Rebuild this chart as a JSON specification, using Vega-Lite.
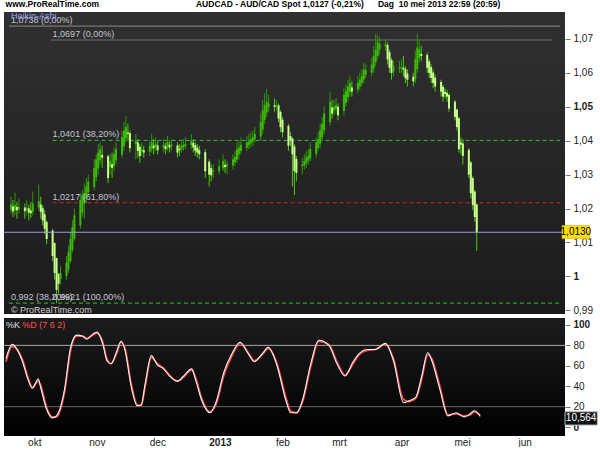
{
  "$schema": "https://vega.github.io/schema/vega-lite/v6.json",
  "background": "white",
  "padding": {"left": 2, "top": 0, "right": 0, "bottom": 0},
  "title": {"text": "www.ProRealTime.com\u00a0\u00a0\u00a0\u00a0\u00a0\u00a0\u00a0\u00a0\u00a0\u00a0\u00a0\u00a0\u00a0\u00a0\u00a0\u00a0\u00a0\u00a0\u00a0\u00a0\u00a0\u00a0\u00a0\u00a0\u00a0\u00a0\u00a0\u00a0\u00a0\u00a0\u00a0\u00a0\u00a0\u00a0\u00a0\u00a0\u00a0\u00a0\u00a0\u00a0\u00a0AUDCAD - AUD/CAD Spot\u00a01,0127 (-0,21%)\u00a0\u00a0\u00a0\u00a0\u00a0\u00a0Dag\u00a0\u00a010 mei 2013 22:59 (20:59)", "anchor": "start", "fontSize": 8.5, "fontWeight": "bold", "font": "Liberation Sans", "color": "#000000", "offset": 3, "dx": 3},
  "config": {"font": "Liberation Sans", "view": {"stroke": null}, "axis": {"grid": false, "labelOverlap": false}},
  "spacing": 2,
  "datasets": {
    "candles": [
      {"date":"2012-09-17","o":1.0197,"h":1.0235,"l":1.0185,"c":1.0212},
      {"date":"2012-09-18","o":1.0206,"h":1.0225,"l":1.0175,"c":1.0191},
      {"date":"2012-09-19","o":1.0195,"h":1.0247,"l":1.0180,"c":1.0210},
      {"date":"2012-09-20","o":1.0205,"h":1.0220,"l":1.0170,"c":1.0195},
      {"date":"2012-09-21","o":1.0198,"h":1.0230,"l":1.0185,"c":1.0205},
      {"date":"2012-09-24","o":1.0203,"h":1.0215,"l":1.0170,"c":1.0192},
      {"date":"2012-09-25","o":1.0195,"h":1.0225,"l":1.0180,"c":1.0202},
      {"date":"2012-09-26","o":1.0200,"h":1.0212,"l":1.0165,"c":1.0188},
      {"date":"2012-09-27","o":1.0194,"h":1.0220,"l":1.0172,"c":1.0186},
      {"date":"2012-09-28","o":1.0190,"h":1.0250,"l":1.0180,"c":1.0215},
      {"date":"2012-10-01","o":1.0203,"h":1.0271,"l":1.0195,"c":1.0222},
      {"date":"2012-10-02","o":1.0212,"h":1.0235,"l":1.0170,"c":1.0190},
      {"date":"2012-10-03","o":1.0201,"h":1.0210,"l":1.0150,"c":1.0165},
      {"date":"2012-10-04","o":1.0183,"h":1.0195,"l":1.0125,"c":1.0140},
      {"date":"2012-10-05","o":1.0160,"h":1.0165,"l":1.0095,"c":1.0110},
      {"date":"2012-10-08","o":1.0135,"h":1.0140,"l":1.0045,"c":1.0060},
      {"date":"2012-10-09","o":1.0098,"h":1.0100,"l":0.9990,"c":1.0010},
      {"date":"2012-10-10","o":1.0054,"h":1.0055,"l":0.9921,"c":0.9960},
      {"date":"2012-10-11","o":1.0007,"h":1.0010,"l":0.9950,"c":0.9978},
      {"date":"2012-10-12","o":0.9992,"h":1.0030,"l":0.9975,"c":1.0010},
      {"date":"2012-10-15","o":1.0001,"h":1.0060,"l":0.9990,"c":1.0040},
      {"date":"2012-10-16","o":1.0020,"h":1.0090,"l":1.0010,"c":1.0070},
      {"date":"2012-10-17","o":1.0045,"h":1.0130,"l":1.0040,"c":1.0110},
      {"date":"2012-10-18","o":1.0078,"h":1.0165,"l":1.0070,"c":1.0145},
      {"date":"2012-10-19","o":1.0111,"h":1.0200,"l":1.0105,"c":1.0180},
      {"date":"2012-10-22","o":1.0150,"h":1.0245,"l":1.0140,"c":1.0225},
      {"date":"2012-10-23","o":1.0188,"h":1.0255,"l":1.0175,"c":1.0240},
      {"date":"2012-10-24","o":1.0214,"h":1.0275,"l":1.0170,"c":1.0245},
      {"date":"2012-10-25","o":1.0230,"h":1.0290,"l":1.0215,"c":1.0265},
      {"date":"2012-10-26","o":1.0248,"h":1.0300,"l":1.0235,"c":1.0280},
      {"date":"2012-10-29","o":1.0264,"h":1.0345,"l":1.0255,"c":1.0320},
      {"date":"2012-10-30","o":1.0292,"h":1.0360,"l":1.0280,"c":1.0345},
      {"date":"2012-10-31","o":1.0318,"h":1.0390,"l":1.0300,"c":1.0365},
      {"date":"2012-11-01","o":1.0342,"h":1.0395,"l":1.0330,"c":1.0375},
      {"date":"2012-11-02","o":1.0358,"h":1.0385,"l":1.0320,"c":1.0350},
      {"date":"2012-11-05","o":1.0354,"h":1.0360,"l":1.0275,"c":1.0290},
      {"date":"2012-11-06","o":1.0322,"h":1.0360,"l":1.0300,"c":1.0340},
      {"date":"2012-11-07","o":1.0331,"h":1.0365,"l":1.0290,"c":1.0320},
      {"date":"2012-11-08","o":1.0325,"h":1.0380,"l":1.0310,"c":1.0360},
      {"date":"2012-11-09","o":1.0342,"h":1.0395,"l":1.0330,"c":1.0375},
      {"date":"2012-11-12","o":1.0358,"h":1.0430,"l":1.0350,"c":1.0410},
      {"date":"2012-11-13","o":1.0384,"h":1.0455,"l":1.0370,"c":1.0430},
      {"date":"2012-11-14","o":1.0407,"h":1.0472,"l":1.0395,"c":1.0440},
      {"date":"2012-11-15","o":1.0424,"h":1.0450,"l":1.0400,"c":1.0420},
      {"date":"2012-11-16","o":1.0422,"h":1.0430,"l":1.0365,"c":1.0378},
      {"date":"2012-11-19","o":1.0390,"h":1.0420,"l":1.0345,"c":1.0400},
      {"date":"2012-11-20","o":1.0395,"h":1.0405,"l":1.0350,"c":1.0370},
      {"date":"2012-11-21","o":1.0382,"h":1.0390,"l":1.0335,"c":1.0355},
      {"date":"2012-11-22","o":1.0368,"h":1.0395,"l":1.0355,"c":1.0375},
      {"date":"2012-11-23","o":1.0372,"h":1.0385,"l":1.0350,"c":1.0365},
      {"date":"2012-11-26","o":1.0368,"h":1.0400,"l":1.0355,"c":1.0385},
      {"date":"2012-11-27","o":1.0376,"h":1.0420,"l":1.0365,"c":1.0395},
      {"date":"2012-11-28","o":1.0386,"h":1.0405,"l":1.0360,"c":1.0378},
      {"date":"2012-11-29","o":1.0382,"h":1.0410,"l":1.0370,"c":1.0390},
      {"date":"2012-11-30","o":1.0386,"h":1.0400,"l":1.0360,"c":1.0372},
      {"date":"2012-12-03","o":1.0379,"h":1.0405,"l":1.0365,"c":1.0388},
      {"date":"2012-12-04","o":1.0384,"h":1.0395,"l":1.0360,"c":1.0375},
      {"date":"2012-12-05","o":1.0380,"h":1.0415,"l":1.0370,"c":1.0395},
      {"date":"2012-12-06","o":1.0388,"h":1.0400,"l":1.0365,"c":1.0380},
      {"date":"2012-12-07","o":1.0384,"h":1.0405,"l":1.0370,"c":1.0388},
      {"date":"2012-12-10","o":1.0386,"h":1.0395,"l":1.0350,"c":1.0365},
      {"date":"2012-12-11","o":1.0376,"h":1.0390,"l":1.0355,"c":1.0372},
      {"date":"2012-12-12","o":1.0374,"h":1.0400,"l":1.0365,"c":1.0385},
      {"date":"2012-12-13","o":1.0380,"h":1.0405,"l":1.0370,"c":1.0388},
      {"date":"2012-12-14","o":1.0384,"h":1.0410,"l":1.0375,"c":1.0390},
      {"date":"2012-12-17","o":1.0387,"h":1.0420,"l":1.0375,"c":1.0400},
      {"date":"2012-12-18","o":1.0394,"h":1.0405,"l":1.0365,"c":1.0380},
      {"date":"2012-12-19","o":1.0387,"h":1.0395,"l":1.0355,"c":1.0370},
      {"date":"2012-12-20","o":1.0379,"h":1.0390,"l":1.0350,"c":1.0365},
      {"date":"2012-12-21","o":1.0372,"h":1.0385,"l":1.0345,"c":1.0360},
      {"date":"2012-12-24","o":1.0366,"h":1.0375,"l":1.0290,"c":1.0310},
      {"date":"2012-12-26","o":1.0338,"h":1.0345,"l":1.0265,"c":1.0300},
      {"date":"2012-12-27","o":1.0319,"h":1.0330,"l":1.0280,"c":1.0298},
      {"date":"2012-12-28","o":1.0308,"h":1.0330,"l":1.0290,"c":1.0312},
      {"date":"2012-12-31","o":1.0310,"h":1.0345,"l":1.0300,"c":1.0325},
      {"date":"2013-01-02","o":1.0318,"h":1.0360,"l":1.0310,"c":1.0340},
      {"date":"2013-01-03","o":1.0329,"h":1.0345,"l":1.0305,"c":1.0322},
      {"date":"2013-01-04","o":1.0324,"h":1.0340,"l":1.0300,"c":1.0330},
      {"date":"2013-01-07","o":1.0327,"h":1.0360,"l":1.0315,"c":1.0345},
      {"date":"2013-01-08","o":1.0336,"h":1.0370,"l":1.0325,"c":1.0352},
      {"date":"2013-01-09","o":1.0344,"h":1.0395,"l":1.0335,"c":1.0375},
      {"date":"2013-01-10","o":1.0360,"h":1.0400,"l":1.0345,"c":1.0380},
      {"date":"2013-01-11","o":1.0370,"h":1.0410,"l":1.0360,"c":1.0388},
      {"date":"2013-01-14","o":1.0379,"h":1.0415,"l":1.0370,"c":1.0395},
      {"date":"2013-01-15","o":1.0387,"h":1.0420,"l":1.0375,"c":1.0398},
      {"date":"2013-01-16","o":1.0392,"h":1.0425,"l":1.0380,"c":1.0405},
      {"date":"2013-01-17","o":1.0398,"h":1.0430,"l":1.0385,"c":1.0410},
      {"date":"2013-01-18","o":1.0404,"h":1.0440,"l":1.0395,"c":1.0420},
      {"date":"2013-01-21","o":1.0412,"h":1.0480,"l":1.0400,"c":1.0455},
      {"date":"2013-01-22","o":1.0433,"h":1.0520,"l":1.0420,"c":1.0490},
      {"date":"2013-01-23","o":1.0462,"h":1.0540,"l":1.0450,"c":1.0505},
      {"date":"2013-01-24","o":1.0483,"h":1.0552,"l":1.0470,"c":1.0515},
      {"date":"2013-01-25","o":1.0499,"h":1.0535,"l":1.0485,"c":1.0510},
      {"date":"2013-01-28","o":1.0505,"h":1.0525,"l":1.0485,"c":1.0500},
      {"date":"2013-01-29","o":1.0502,"h":1.0520,"l":1.0490,"c":1.0505},
      {"date":"2013-01-30","o":1.0504,"h":1.0510,"l":1.0455,"c":1.0465},
      {"date":"2013-01-31","o":1.0485,"h":1.0490,"l":1.0425,"c":1.0440},
      {"date":"2013-02-01","o":1.0462,"h":1.0470,"l":1.0410,"c":1.0425},
      {"date":"2013-02-04","o":1.0444,"h":1.0450,"l":1.0370,"c":1.0385},
      {"date":"2013-02-05","o":1.0414,"h":1.0425,"l":1.0385,"c":1.0400},
      {"date":"2013-02-06","o":1.0407,"h":1.0410,"l":1.0265,"c":1.0360},
      {"date":"2013-02-07","o":1.0383,"h":1.0390,"l":1.0240,"c":1.0310},
      {"date":"2013-02-08","o":1.0346,"h":1.0355,"l":1.0280,"c":1.0305},
      {"date":"2013-02-11","o":1.0325,"h":1.0350,"l":1.0300,"c":1.0330},
      {"date":"2013-02-12","o":1.0327,"h":1.0360,"l":1.0315,"c":1.0340},
      {"date":"2013-02-13","o":1.0333,"h":1.0370,"l":1.0320,"c":1.0350},
      {"date":"2013-02-14","o":1.0341,"h":1.0375,"l":1.0330,"c":1.0355},
      {"date":"2013-02-15","o":1.0348,"h":1.0395,"l":1.0340,"c":1.0375},
      {"date":"2013-02-18","o":1.0361,"h":1.0410,"l":1.0350,"c":1.0395},
      {"date":"2013-02-19","o":1.0378,"h":1.0425,"l":1.0370,"c":1.0405},
      {"date":"2013-02-20","o":1.0391,"h":1.0450,"l":1.0380,"c":1.0430},
      {"date":"2013-02-21","o":1.0410,"h":1.0470,"l":1.0400,"c":1.0450},
      {"date":"2013-02-22","o":1.0430,"h":1.0500,"l":1.0420,"c":1.0480},
      {"date":"2013-02-25","o":1.0455,"h":1.0545,"l":1.0445,"c":1.0515},
      {"date":"2013-02-26","o":1.0498,"h":1.0520,"l":1.0465,"c":1.0480},
      {"date":"2013-02-27","o":1.0489,"h":1.0520,"l":1.0475,"c":1.0500},
      {"date":"2013-02-28","o":1.0494,"h":1.0525,"l":1.0480,"c":1.0505},
      {"date":"2013-03-01","o":1.0500,"h":1.0510,"l":1.0460,"c":1.0475},
      {"date":"2013-03-04","o":1.0488,"h":1.0555,"l":1.0475,"c":1.0535},
      {"date":"2013-03-05","o":1.0511,"h":1.0565,"l":1.0500,"c":1.0546},
      {"date":"2013-03-06","o":1.0528,"h":1.0580,"l":1.0515,"c":1.0560},
      {"date":"2013-03-07","o":1.0544,"h":1.0590,"l":1.0530,"c":1.0570},
      {"date":"2013-03-08","o":1.0557,"h":1.0575,"l":1.0530,"c":1.0545},
      {"date":"2013-03-11","o":1.0551,"h":1.0590,"l":1.0540,"c":1.0570},
      {"date":"2013-03-12","o":1.0560,"h":1.0600,"l":1.0550,"c":1.0580},
      {"date":"2013-03-13","o":1.0570,"h":1.0610,"l":1.0560,"c":1.0590},
      {"date":"2013-03-14","o":1.0580,"h":1.0630,"l":1.0570,"c":1.0610},
      {"date":"2013-03-15","o":1.0595,"h":1.0625,"l":1.0585,"c":1.0608},
      {"date":"2013-03-18","o":1.0601,"h":1.0645,"l":1.0590,"c":1.0625},
      {"date":"2013-03-19","o":1.0613,"h":1.0680,"l":1.0600,"c":1.0650},
      {"date":"2013-03-20","o":1.0632,"h":1.0715,"l":1.0620,"c":1.0668},
      {"date":"2013-03-21","o":1.0650,"h":1.0712,"l":1.0640,"c":1.0690},
      {"date":"2013-03-22","o":1.0670,"h":1.0705,"l":1.0655,"c":1.0685},
      {"date":"2013-03-25","o":1.0678,"h":1.0700,"l":1.0665,"c":1.0685},
      {"date":"2013-03-26","o":1.0682,"h":1.0690,"l":1.0625,"c":1.0640},
      {"date":"2013-03-27","o":1.0661,"h":1.0668,"l":1.0600,"c":1.0615},
      {"date":"2013-03-28","o":1.0638,"h":1.0645,"l":1.0580,"c":1.0600},
      {"date":"2013-03-29","o":1.0605,"h":1.0635,"l":1.0590,"c":1.0620},
      {"date":"2013-04-01","o":1.0612,"h":1.0635,"l":1.0600,"c":1.0615},
      {"date":"2013-04-02","o":1.0613,"h":1.0640,"l":1.0600,"c":1.0618},
      {"date":"2013-04-03","o":1.0615,"h":1.0650,"l":1.0590,"c":1.0610},
      {"date":"2013-04-04","o":1.0612,"h":1.0620,"l":1.0570,"c":1.0585},
      {"date":"2013-04-05","o":1.0598,"h":1.0610,"l":1.0560,"c":1.0580},
      {"date":"2013-04-08","o":1.0589,"h":1.0600,"l":1.0560,"c":1.0575},
      {"date":"2013-04-09","o":1.0582,"h":1.0665,"l":1.0570,"c":1.0640},
      {"date":"2013-04-10","o":1.0611,"h":1.0715,"l":1.0600,"c":1.0675},
      {"date":"2013-04-11","o":1.0643,"h":1.0700,"l":1.0630,"c":1.0670},
      {"date":"2013-04-12","o":1.0656,"h":1.0680,"l":1.0635,"c":1.0650},
      {"date":"2013-04-15","o":1.0653,"h":1.0660,"l":1.0600,"c":1.0615},
      {"date":"2013-04-16","o":1.0634,"h":1.0640,"l":1.0585,"c":1.0600},
      {"date":"2013-04-17","o":1.0617,"h":1.0625,"l":1.0570,"c":1.0585},
      {"date":"2013-04-18","o":1.0601,"h":1.0610,"l":1.0555,"c":1.0570},
      {"date":"2013-04-19","o":1.0586,"h":1.0595,"l":1.0545,"c":1.0560},
      {"date":"2013-04-22","o":1.0573,"h":1.0580,"l":1.0530,"c":1.0545},
      {"date":"2013-04-23","o":1.0559,"h":1.0565,"l":1.0515,"c":1.0530},
      {"date":"2013-04-24","o":1.0544,"h":1.0555,"l":1.0525,"c":1.0538},
      {"date":"2013-04-25","o":1.0541,"h":1.0550,"l":1.0515,"c":1.0530},
      {"date":"2013-04-26","o":1.0535,"h":1.0540,"l":1.0485,"c":1.0495},
      {"date":"2013-04-29","o":1.0515,"h":1.0520,"l":1.0460,"c":1.0470},
      {"date":"2013-04-30","o":1.0492,"h":1.0495,"l":1.0430,"c":1.0440},
      {"date":"2013-05-01","o":1.0466,"h":1.0470,"l":1.0365,"c":1.0375},
      {"date":"2013-05-02","o":1.0395,"h":1.0410,"l":1.0360,"c":1.0388},
      {"date":"2013-05-03","o":1.0392,"h":1.0405,"l":1.0330,"c":1.0355},
      {"date":"2013-05-06","o":1.0373,"h":1.0378,"l":1.0290,"c":1.0300},
      {"date":"2013-05-07","o":1.0336,"h":1.0340,"l":1.0230,"c":1.0245},
      {"date":"2013-05-08","o":1.0290,"h":1.0295,"l":1.0195,"c":1.0210},
      {"date":"2013-05-09","o":1.0250,"h":1.0255,"l":1.0160,"c":1.0175},
      {"date":"2013-05-10","o":1.0212,"h":1.0215,"l":1.0075,"c":1.0130}
    ],
    "stoch": [
      {"date":"2012-09-17","k":67,"d":64},{"date":"2012-09-20","k":81,"d":79},{"date":"2012-09-25","k":65,"d":67},
      {"date":"2012-09-28","k":46,"d":48},{"date":"2012-09-30","k":38,"d":39},{"date":"2012-10-03","k":47,"d":45},
      {"date":"2012-10-04","k":40,"d":42},{"date":"2012-10-07","k":18,"d":20},{"date":"2012-10-10","k":9,"d":10},
      {"date":"2012-10-12","k":11,"d":10},{"date":"2012-10-16","k":37,"d":34},{"date":"2012-10-19","k":78,"d":75},
      {"date":"2012-10-22","k":90,"d":89},{"date":"2012-10-25","k":89,"d":89},{"date":"2012-10-27","k":86,"d":87},
      {"date":"2012-10-30","k":91,"d":90},{"date":"2012-11-01","k":93,"d":92},{"date":"2012-11-04","k":81,"d":83},
      {"date":"2012-11-06","k":65,"d":67},{"date":"2012-11-08","k":62,"d":62},{"date":"2012-11-11","k":75,"d":73},
      {"date":"2012-11-13","k":84,"d":83},{"date":"2012-11-15","k":75,"d":77},{"date":"2012-11-18","k":40,"d":43},
      {"date":"2012-11-21","k":21,"d":22},{"date":"2012-11-23","k":22,"d":21},{"date":"2012-11-25","k":43,"d":40},
      {"date":"2012-11-28","k":70,"d":68},{"date":"2012-12-01","k":61,"d":62},{"date":"2012-12-04","k":57,"d":58},
      {"date":"2012-12-07","k":50,"d":51},{"date":"2012-12-11","k":45,"d":45},{"date":"2012-12-14","k":50,"d":49},
      {"date":"2012-12-18","k":57,"d":56},{"date":"2012-12-20","k":46,"d":48},{"date":"2012-12-23","k":26,"d":28},
      {"date":"2012-12-27","k":14,"d":15},{"date":"2012-12-30","k":24,"d":22},{"date":"2013-01-03","k":54,"d":51},
      {"date":"2013-01-07","k":72,"d":70},{"date":"2013-01-11","k":83,"d":82},{"date":"2013-01-15","k":72,"d":73},
      {"date":"2013-01-18","k":64,"d":65},{"date":"2013-01-22","k":72,"d":71},{"date":"2013-01-25","k":78,"d":77},
      {"date":"2013-01-29","k":62,"d":64},{"date":"2013-02-03","k":24,"d":27},{"date":"2013-02-05","k":14,"d":16},
      {"date":"2013-02-08","k":14,"d":14},{"date":"2013-02-11","k":27,"d":25},{"date":"2013-02-15","k":62,"d":59},
      {"date":"2013-02-19","k":85,"d":84},{"date":"2013-02-24","k":80,"d":81},{"date":"2013-02-28","k":62,"d":64},
      {"date":"2013-03-04","k":50,"d":51},{"date":"2013-03-08","k":64,"d":62},{"date":"2013-03-11","k":72,"d":71},
      {"date":"2013-03-15","k":76,"d":75},{"date":"2013-03-19","k":76,"d":76},{"date":"2013-03-24","k":82,"d":81},
      {"date":"2013-03-28","k":65,"d":67},{"date":"2013-04-02","k":24,"d":27},{"date":"2013-04-05","k":26,"d":25},
      {"date":"2013-04-08","k":29,"d":28},{"date":"2013-04-11","k":50,"d":47},{"date":"2013-04-14","k":73,"d":71},
      {"date":"2013-04-16","k":65,"d":67},{"date":"2013-04-20","k":37,"d":40},{"date":"2013-04-24","k":11,"d":12},
      {"date":"2013-04-28","k":14,"d":13},{"date":"2013-05-02","k":10,"d":11},{"date":"2013-05-05","k":13,"d":12},
      {"date":"2013-05-07","k":16,"d":15},{"date":"2013-05-10","k":10.564,"d":12}
    ]
  },
  "vconcat": [
    {
      "width": 561,
      "height": 302,
      "view": {"stroke": null, "fill": {"gradient": "linear", "x1": 0, "y1": 0, "x2": 0, "y2": 1, "stops": [{"offset": 0, "color": "#303030"}, {"offset": 1, "color": "#1b1b1b"}]}},
      "layer": [
        {
          "data": {"values": [{"date": "2012-09-16", "date2": "2013-06-21", "level": 1.0738}]},
          "mark": {"type": "rule", "color": "#8a8a8a", "strokeWidth": 1},
          "encoding": {
            "x": {"field": "date", "type": "temporal", "scale": {"type": "utc", "domain": [{"year": 2012, "month": 9, "date": 16, "utc": true}, {"year": 2013, "month": 6, "date": 21, "utc": true}], "nice": false}, "axis": null},
            "x2": {"field": "date2"},
            "y": {"field": "level", "type": "quantitative", "title": null, "scale": {"domain": [0.98889, 1.07796], "nice": false, "zero": false}, "axis": {"orient": "right", "title": null, "values": [0.99, 1, 1.01, 1.02, 1.03, 1.04, 1.05, 1.06, 1.07], "tickCount": 30, "labelOverlap": false, "labelExpr": "datum.value == 1 ? '1' : replace(format(datum.value, '.2f'), '.', ',')", "labelFontWeight": {"condition": {"test": "datum.value == 1 || datum.value == 1.05", "value": "bold"}, "value": "normal"}, "labelFontSize": 10, "labelColor": "#222222", "labelFont": "Liberation Sans", "tickColor": "#777777", "tickSize": 5, "labelPadding": 3, "domain": false, "grid": false}}
          }
        },
        {
          "data": {"values": [{"date": "2012-10-07", "date2": "2013-06-17", "level": 1.0697}]},
          "mark": {"type": "rule", "color": "#6e6e6e", "strokeWidth": 1},
          "encoding": {"x": {"field": "date", "type": "temporal"}, "x2": {"field": "date2"}, "y": {"field": "level", "type": "quantitative", "title": null}}
        },
        {
          "data": {"values": [{"date": "2012-10-08", "date2": "2013-06-21", "level": 1.0401}, {"date": "2012-09-16", "date2": "2013-06-21", "level": 0.9921}]},
          "mark": {"type": "rule", "color": "#2fc42f", "strokeWidth": 1, "strokeDash": [4, 3]},
          "encoding": {"x": {"field": "date", "type": "temporal"}, "x2": {"field": "date2"}, "y": {"field": "level", "type": "quantitative", "title": null}}
        },
        {
          "data": {"values": [{"date": "2012-10-08", "date2": "2013-06-21", "level": 1.0217}]},
          "mark": {"type": "rule", "color": "#c82828", "strokeWidth": 1, "strokeDash": [4, 3]},
          "encoding": {"x": {"field": "date", "type": "temporal"}, "x2": {"field": "date2"}, "y": {"field": "level", "type": "quantitative", "title": null}}
        },
        {
          "data": {"name": "candles"},
          "mark": {"type": "rule", "strokeWidth": 1},
          "encoding": {
            "x": {"field": "date", "type": "temporal"},
            "y": {"field": "l", "type": "quantitative", "title": null},
            "y2": {"field": "h"},
            "color": {"condition": {"test": "datum.c < datum.o", "value": "#4fc814"}, "value": "#2b9a00"}
          }
        },
        {
          "data": {"name": "candles"},
          "mark": {"type": "bar", "size": 2},
          "encoding": {
            "x": {"field": "date", "type": "temporal"},
            "y": {"field": "o", "type": "quantitative", "title": null},
            "y2": {"field": "c"},
            "color": {"condition": {"test": "datum.c < datum.o", "value": "#c8ff8c"}, "value": "#3cb80a"}
          }
        },
        {
          "data": {"values": [{"level": 1.013}]},
          "mark": {"type": "rule", "color": "#9c9cdc", "strokeWidth": 1},
          "encoding": {"y": {"field": "level", "type": "quantitative", "title": null}}
        },
        {
          "data": {"values": [
            {"date": "2012-09-17", "level": 1.0738, "label": "1,0738 (0,00%)"},
            {"date": "2012-10-08", "level": 1.0697, "label": "1,0697 (0,00%)"},
            {"date": "2012-10-08", "level": 1.0401, "label": "1,0401 (38,20%)"},
            {"date": "2012-10-08", "level": 1.0217, "label": "1,0217 (61,80%)"},
            {"date": "2012-09-17", "level": 0.9921, "label": "0,992 (38,20%)"},
            {"date": "2012-10-08", "level": 0.9921, "label": "0,9921 (100,00%)"}
          ]},
          "mark": {"type": "text", "align": "left", "baseline": "bottom", "dy": -1, "fontSize": 9, "color": "#c4c4d4", "font": "Liberation Sans"},
          "encoding": {"x": {"field": "date", "type": "temporal"}, "y": {"field": "level", "type": "quantitative", "title": null}, "text": {"field": "label"}}
        },
        {
          "data": {"values": [{"date": "2012-09-17", "level": 1.0768, "label": "Heikin-Ashi"}]},
          "mark": {"type": "text", "align": "left", "baseline": "middle", "fontSize": 9, "color": "#a0a0f0", "font": "Liberation Sans"},
          "encoding": {"x": {"field": "date", "type": "temporal"}, "y": {"field": "level", "type": "quantitative", "title": null}, "text": {"field": "label"}}
        },
        {
          "data": {"values": [{"date": "2012-09-17", "level": 0.99006, "label": "\u00a9 ProRealTime.com"}]},
          "mark": {"type": "text", "align": "left", "baseline": "middle", "fontSize": 9, "color": "#d0d0d0", "font": "Liberation Sans"},
          "encoding": {"x": {"field": "date", "type": "temporal"}, "y": {"field": "level", "type": "quantitative", "title": null}, "text": {"field": "label"}}
        },
        {
          "data": {"values": [{"date": "2013-06-22", "date2": "2013-07-06", "level": 1.0150, "level2": 1.0111}]},
          "mark": {"type": "rect", "color": "#ffdd00", "stroke": "#c8a800", "strokeWidth": 0.5},
          "encoding": {"x": {"field": "date", "type": "temporal"}, "x2": {"field": "date2"}, "y": {"field": "level", "type": "quantitative", "title": null}, "y2": {"field": "level2"}}
        },
        {
          "data": {"values": [{"date": "2013-06-29", "level": 1.0130, "label": "1,0130"}]},
          "mark": {"type": "text", "align": "center", "baseline": "middle", "fontSize": 10, "color": "#000000", "font": "Liberation Sans"},
          "encoding": {"x": {"field": "date", "type": "temporal"}, "y": {"field": "level", "type": "quantitative", "title": null}, "text": {"field": "label"}}
        }
      ]
    },
    {
      "width": 561,
      "height": 118,
      "view": {"stroke": null, "fill": {"gradient": "linear", "x1": 0, "y1": 0, "x2": 0, "y2": 1, "stops": [{"offset": 0, "color": "#1c1c1c"}, {"offset": 1, "color": "#000000"}]}},
      "layer": [
        {
          "data": {"values": [{"level": 80}]},
          "mark": {"type": "rule", "color": "#a8a8a8", "strokeWidth": 1},
          "encoding": {"y": {"field": "level", "type": "quantitative", "title": null, "scale": {"domain": [-8.7, 106.8], "nice": false, "zero": false}, "axis": {"orient": "right", "title": null, "values": [0, 20, 40, 60, 80, 100], "tickCount": 30, "labelOverlap": false, "labelFontWeight": {"condition": {"test": "datum.value == 0 || datum.value == 100", "value": "bold"}, "value": "normal"}, "labelFontSize": 10, "labelColor": "#222222", "labelFont": "Liberation Sans", "tickColor": "#777777", "tickSize": 5, "labelPadding": 3, "domain": false, "grid": false}}}
        },
        {
          "data": {"values": [{"level": 20}]},
          "mark": {"type": "rule", "color": "#6a6a6a", "strokeWidth": 1},
          "encoding": {"y": {"field": "level", "type": "quantitative", "title": null}}
        },
        {
          "data": {"name": "stoch"},
          "mark": {"type": "line", "color": "#ff4a4a", "strokeWidth": 1.7, "interpolate": "monotone"},
          "encoding": {
            "x": {"field": "date", "type": "temporal", "title": null, "scale": {"type": "utc", "domain": [{"year": 2012, "month": 9, "date": 16, "utc": true}, {"year": 2013, "month": 6, "date": 21, "utc": true}], "nice": false}, "axis": {"title": null, "values": [{"year": 2012, "month": 10, "date": 1, "utc": true}, {"year": 2012, "month": 11, "date": 1, "utc": true}, {"year": 2012, "month": 12, "date": 1, "utc": true}, {"year": 2013, "month": 1, "date": 1, "utc": true}, {"year": 2013, "month": 2, "date": 1, "utc": true}, {"year": 2013, "month": 3, "date": 1, "utc": true}, {"year": 2013, "month": 4, "date": 1, "utc": true}, {"year": 2013, "month": 5, "date": 1, "utc": true}, {"year": 2013, "month": 6, "date": 1, "utc": true}], "tickCount": 30, "labelOverlap": false, "labelExpr": "utcmonth(datum.value) == 0 ? utcFormat(datum.value, '%Y') : ['jan','feb','mrt','apr','mei','jun','jul','aug','sep','okt','nov','dec'][utcmonth(datum.value)]", "labelFontWeight": {"condition": {"test": "utcmonth(datum.value) == 0", "value": "bold"}, "value": "normal"}, "labelFontSize": 10, "labelColor": "#222222", "labelFont": "Liberation Sans", "ticks": false, "labelPadding": 1, "domain": false, "grid": false}},
            "y": {"field": "d", "type": "quantitative", "title": null}
          }
        },
        {
          "data": {"name": "stoch"},
          "mark": {"type": "line", "color": "#f4f4f4", "strokeWidth": 1.1, "interpolate": "monotone"},
          "encoding": {"x": {"field": "date", "type": "temporal", "title": null}, "y": {"field": "k", "type": "quantitative", "title": null}}
        },
        {
          "data": {"values": [{"date": "2012-09-17", "level": 100, "label": "%K"}]},
          "mark": {"type": "text", "align": "left", "baseline": "middle", "fontSize": 9, "color": "#e0e0e0", "font": "Liberation Sans"},
          "encoding": {"x": {"field": "date", "type": "temporal", "title": null}, "y": {"field": "level", "type": "quantitative", "title": null}, "text": {"field": "label"}}
        },
        {
          "data": {"values": [{"date": "2012-09-25", "level": 100, "label": "%D (7 6 2)"}]},
          "mark": {"type": "text", "align": "left", "baseline": "middle", "fontSize": 9, "color": "#ff5050", "font": "Liberation Sans"},
          "encoding": {"x": {"field": "date", "type": "temporal", "title": null}, "y": {"field": "level", "type": "quantitative", "title": null}, "text": {"field": "label"}}
        },
        {
          "data": {"values": [{"date": "2013-06-21", "date2": "2013-07-07", "level": 15, "level2": 2}]},
          "mark": {"type": "rect", "color": "#111111", "stroke": "#bbbbbb", "strokeWidth": 1},
          "encoding": {"x": {"field": "date", "type": "temporal", "title": null}, "x2": {"field": "date2"}, "y": {"field": "level", "type": "quantitative", "title": null}, "y2": {"field": "level2"}}
        },
        {
          "data": {"values": [{"date": "2013-06-29", "level": 8.5, "label": "10,564"}]},
          "mark": {"type": "text", "align": "center", "baseline": "middle", "fontSize": 10, "color": "#ffffff", "font": "Liberation Sans"},
          "encoding": {"x": {"field": "date", "type": "temporal", "title": null}, "y": {"field": "level", "type": "quantitative", "title": null}, "text": {"field": "label"}}
        }
      ]
    }
  ]
}
